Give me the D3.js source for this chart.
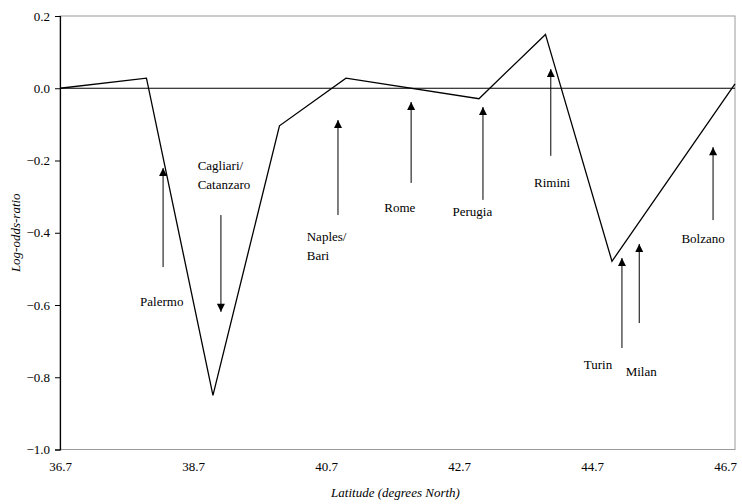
<!DOCTYPE html>
<html>
<head>
<meta charset="utf-8">
<script src="https://cdn.jsdelivr.net/npm/d3@7"></script>
</head>
<body style="margin:0">
<svg id="chart" width="742" height="504" font-family="Liberation Serif"></svg>
<script>
// Log-odds-ratio by latitude
const latitudes = [36.7, 38.0, 39.0, 40.0, 41.0, 43.0, 44.0, 45.0, 46.85];
const logOdds   = [0.0, 0.028, -0.85, -0.104, 0.028, -0.029, 0.149, -0.479, 0.012];

const xTicks = [36.7, 38.7, 40.7, 42.7, 44.7, 46.7];
const yTicks = [0.2, 0.0, -0.2, -0.4, -0.6, -0.8, -1.0];

// City annotations: arrow at latitude arrowLat from value arrowFrom to arrowTo;
// label lines anchored at (labelLat, labelVal)
const cityNames   = [["Palermo"], ["Cagliari/", "Catanzaro"], ["Naples/", "Bari"], ["Rome"], ["Perugia"], ["Rimini"], ["Turin"], ["Milan"], ["Bolzano"]];
const arrowLat    = [38.25, 39.12, 40.88, 41.98, 43.06, 44.08, 45.15, 45.41, 46.52];
const arrowFrom   = [-0.495, -0.351, -0.351, -0.262, -0.309, -0.187, -0.719, -0.650, -0.365];
const arrowTo     = [-0.221, -0.619, -0.088, -0.038, -0.052, 0.053, -0.470, -0.431, -0.163];
const labelLat    = [38.23, 38.77, 40.41, 41.81, 42.90, 44.10, 44.79, 45.44, 46.37];
const labelVal    = [-0.603, -0.226, -0.423, -0.343, -0.354, -0.273, -0.777, -0.797, -0.428];
const labelAnchor = ["middle", "start", "start", "middle", "middle", "middle", "middle", "middle", "middle"];

const FONT = "Liberation Serif";

const svg = d3.select("#chart");
const margin = { left: 60, right: 7, top: 16, bottom: 54.5 };
const W = 742, H = 504;

const x = d3.scaleLinear().domain([36.7, 46.85]).range([margin.left, W - margin.right]);
const y = d3.scaleLinear().domain([-1.0, 0.2]).range([H - margin.bottom, margin.top]);

// plot frame
svg.append("rect")
  .attr("x", x.range()[0]).attr("y", y.range()[1])
  .attr("width", x.range()[1] - x.range()[0])
  .attr("height", y.range()[0] - y.range()[1])
  .attr("fill", "none").attr("stroke", "#9a9a9a").attr("stroke-width", 1);

// zero reference line
svg.append("line")
  .attr("x1", x.range()[0]).attr("x2", x.range()[1])
  .attr("y1", y(0)).attr("y2", y(0))
  .attr("stroke", "#000").attr("stroke-width", 1);

// y axis
const yAxis = d3.axisLeft(y).tickValues(yTicks).tickFormat(d3.format(".1f")).tickSizeOuter(0).tickSize(5).tickPadding(5);
const gy = svg.append("g").attr("transform", `translate(${margin.left},0)`).call(yAxis)
  .attr("font-family", FONT).attr("font-size", 13);
gy.select(".domain").attr("stroke", "#000").attr("stroke-width", 1.2);
gy.selectAll(".tick line").attr("stroke", "#000");
gy.selectAll("text").attr("font-family", FONT).attr("font-size", 13).attr("fill", "#000");

// x axis (labels only)
const xAxis = d3.axisBottom(x).tickValues(xTicks).tickFormat(d3.format(".1f")).tickSize(0).tickPadding(12);
const gx = svg.append("g").attr("transform", `translate(0,${H - margin.bottom})`).call(xAxis)
  .attr("font-family", FONT).attr("font-size", 13);
gx.select(".domain").remove();
gx.selectAll("text").attr("font-family", FONT).attr("font-size", 13).attr("fill", "#000");

// data line
const pts = latitudes.map((d, i) => [d, logOdds[i]]);
svg.append("path")
  .datum(pts)
  .attr("fill", "none")
  .attr("stroke", "#000")
  .attr("stroke-width", 1.3)
  .attr("stroke-linejoin", "miter")
  .attr("d", d3.line().x(d => x(d[0])).y(d => y(d[1])));

// arrowhead marker
svg.append("defs").append("marker")
  .attr("id", "head")
  .attr("viewBox", "0 0 10 10")
  .attr("refX", 10).attr("refY", 5)
  .attr("markerUnits", "userSpaceOnUse")
  .attr("markerWidth", 10).attr("markerHeight", 8)
  .attr("orient", "auto")
  .append("path").attr("d", "M0,0 L10,5 L0,10 Z").attr("fill", "#000");

// city arrows and labels
const ann = svg.append("g");
cityNames.forEach((lines, i) => {
  ann.append("line")
    .attr("x1", x(arrowLat[i])).attr("x2", x(arrowLat[i]))
    .attr("y1", y(arrowFrom[i])).attr("y2", y(arrowTo[i]))
    .attr("stroke", "#000").attr("stroke-width", 1)
    .attr("marker-end", "url(#head)");
  const t = ann.append("text")
    .attr("x", x(labelLat[i])).attr("y", y(labelVal[i]))
    .attr("text-anchor", labelAnchor[i])
    .attr("font-family", FONT)
    .attr("font-size", 13);
  lines.forEach((s, j) => {
    t.append("tspan").attr("x", x(labelLat[i])).attr("dy", j === 0 ? 0 : 19).text(s);
  });
});

// axis titles
svg.append("text")
  .attr("x", (x.range()[0] + x.range()[1]) / 2 - 2)
  .attr("y", 497)
  .attr("text-anchor", "middle")
  .attr("font-family", FONT)
  .attr("font-size", 13).attr("font-style", "italic")
  .text("Latitude (degrees North)");

svg.append("text")
  .attr("transform", `translate(20,${(y.range()[0] + y.range()[1]) / 2}) rotate(-90)`)
  .attr("text-anchor", "middle")
  .attr("font-family", FONT)
  .attr("font-size", 13).attr("font-style", "italic")
  .text("Log-odds-ratio");
</script>
</body>
</html>
